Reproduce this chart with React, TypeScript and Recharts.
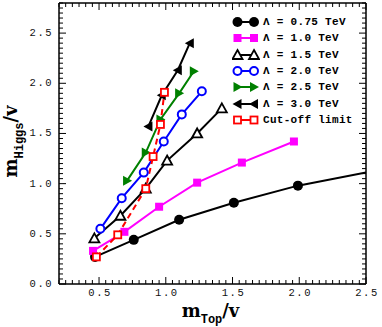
import { LineChart, Line, XAxis, YAxis, Legend, Label } from 'recharts'

// tick labels
const xMajorTicks = [0.5, 1.0, 1.5, 2.0, 2.5]
const yMajorTicks = [0.0, 0.5, 1.0, 1.5, 2.0, 2.5]

// series values (x = m_Top/v, y = m_Higgs/v)
const lambda075X = [0.47, 0.76, 1.1, 1.51, 1.99, 2.5]
const lambda075Y = [0.27, 0.44, 0.64, 0.81, 0.98, 1.11]
const lambda10X = [0.455, 0.69, 0.95, 1.235, 1.57, 1.96]
const lambda10Y = [0.33, 0.52, 0.77, 1.01, 1.21, 1.42]
const lambda15X = [0.465, 0.66, 0.85, 1.01, 1.235, 1.42]
const lambda15Y = [0.455, 0.68, 0.95, 1.23, 1.5, 1.75]
const lambda20X = [0.51, 0.67, 0.835, 0.985, 1.12, 1.27]
const lambda20Y = [0.55, 0.855, 1.11, 1.42, 1.69, 1.92]
const lambda25X = [0.71, 0.85, 0.96, 1.1, 1.21]
const lambda25Y = [1.03, 1.31, 1.64, 1.9, 2.12]
const lambda30X = [0.87, 0.97, 1.09, 1.18]
const lambda30Y = [1.57, 1.88, 2.13, 2.4]
const cutoffX = [0.48, 0.64, 0.85, 0.905, 0.96, 0.99]
const cutoffY = [0.27, 0.49, 0.95, 1.27, 1.59, 1.91]

const seriesNames = [
    'Λ = 0.75 TeV',
    'Λ = 1.0 TeV',
    'Λ = 1.5 TeV',
    'Λ = 2.0 TeV',
    'Λ = 2.5 TeV',
    'Λ = 3.0 TeV',
    'Cut-off limit',
]

const X_DOMAIN: [number, number] = [0.2, 2.5]
const Y_DOMAIN: [number, number] = [0, 2.8]

type MarkerKind = 'circle' | 'square' | 'openTriUp' | 'openCircle' | 'triRight' | 'triLeft' | 'openSquare'

function toPoints(xs: number[], ys: number[]) {
    return xs.map((x, i) => ({ x, y: ys[i] }))
}

const series = [
    { name: seriesNames[0], data: toPoints(lambda075X, lambda075Y), color: '#000000', marker: 'circle' as MarkerKind, lastOpen: true },
    { name: seriesNames[1], data: toPoints(lambda10X, lambda10Y), color: '#ff00ff', marker: 'square' as MarkerKind },
    { name: seriesNames[2], data: toPoints(lambda15X, lambda15Y), color: '#000000', marker: 'openTriUp' as MarkerKind },
    { name: seriesNames[3], data: toPoints(lambda20X, lambda20Y), color: '#0000ff', marker: 'openCircle' as MarkerKind },
    { name: seriesNames[4], data: toPoints(lambda25X, lambda25Y), color: '#008000', marker: 'triRight' as MarkerKind },
    { name: seriesNames[5], data: toPoints(lambda30X, lambda30Y), color: '#000000', marker: 'triLeft' as MarkerKind },
    { name: seriesNames[6], data: toPoints(cutoffX, cutoffY), color: '#ff0000', marker: 'openSquare' as MarkerKind, dashed: true },
]

function stepTicks(from: number, to: number, step: number) {
    const n = Math.round((to - from) / step)
    return Array.from({ length: n + 1 }, (_, i) => Math.round((from + i * step) * 100) / 100)
}

const xTicks = stepTicks(X_DOMAIN[0], X_DOMAIN[1], 0.05)
const yTicks = stepTicks(Y_DOMAIN[0], Y_DOMAIN[1], 0.05)

const MONO = '"Liberation Mono", "DejaVu Sans Mono", monospace'

function Marker({ kind, cx, cy, color }: { kind: MarkerKind; cx: number; cy: number; color: string }) {
    switch (kind) {
        case 'circle':
            return <circle cx={cx} cy={cy} r={5} fill={color} />
        case 'openCircle':
            return <circle cx={cx} cy={cy} r={4} fill="#fff" stroke={color} strokeWidth={2} />
        case 'square':
            return <rect x={cx - 4} y={cy - 4} width={8} height={8} fill={color} />
        case 'openSquare':
            return <rect x={cx - 3.5} y={cy - 3.5} width={7} height={7} fill="#fff" stroke={color} strokeWidth={1.8} />
        case 'openTriUp':
            return (
                <polygon
                    points={`${cx},${cy - 5} ${cx + 5},${cy + 4} ${cx - 5},${cy + 4}`}
                    fill="#fff"
                    stroke={color}
                    strokeWidth={1.8}
                />
            )
        case 'triRight':
            return <polygon points={`${cx + 5},${cy} ${cx - 4},${cy - 5} ${cx - 4},${cy + 5}`} fill={color} />
        case 'triLeft':
            return <polygon points={`${cx - 5},${cy} ${cx + 4},${cy - 5} ${cx + 4},${cy + 5}`} fill={color} />
    }
    return null
}

function isMajor(v: number, majors: number[]) {
    return majors.some((m) => Math.abs(m - v) < 1e-6)
}

function makeTick(side: 'bottom' | 'top' | 'left' | 'right') {
    return (props: any) => {
        const { x, y, payload } = props
        const v = payload.value as number
        const major = isMajor(v, side === 'bottom' || side === 'top' ? xMajorTicks : yMajorTicks)
        const len = major ? 7 : 4
        let line
        if (side === 'bottom') line = <line x1={x} x2={x} y1={y} y2={y - len} />
        else if (side === 'top') line = <line x1={x} x2={x} y1={y} y2={y + len} />
        else if (side === 'left') line = <line x1={x} x2={x + len} y1={y} y2={y} />
        else line = <line x1={x} x2={x - len} y1={y} y2={y} />
        return (
            <g>
                <g stroke="#000" strokeWidth={1}>{line}</g>
                {major && side === 'bottom' && (
                    <text x={x + 1} y={y + 12} textAnchor="middle" fontFamily={MONO} fontSize={10.5} letterSpacing={1.5} fill="#111">
                        {v.toFixed(1)}
                    </text>
                )}
                {major && side === 'left' && (
                    <text x={x - 6} y={y} textAnchor="end" dominantBaseline="central" fontFamily={MONO} fontSize={10.5} letterSpacing={1.5} fill="#111">
                        {v.toFixed(1)}
                    </text>
                )}
            </g>
        )
    }
}

function XTitle(props: any) {
    const { x, y, width } = props.viewBox
    return (
        <text x={x + width / 2 - 2} y={y + 33} textAnchor="middle" fill="#000" fontWeight="bold">
            <tspan fontFamily="DejaVu Serif" fontSize={18}>m</tspan>
            <tspan fontFamily={MONO} fontSize={12} dy={6}>Top</tspan>
            <tspan fontFamily="DejaVu Serif" fontSize={18} dy={-6}>/v</tspan>
        </text>
    )
}

function YTitle(props: any) {
    const { y, height } = props.viewBox
    const cx = 17
    const cy = y + height / 2 - 2
    return (
        <text x={cx} y={cy} textAnchor="middle" fill="#000" fontWeight="bold" transform={`rotate(-90, ${cx}, ${cy})`}>
            <tspan fontFamily="DejaVu Serif" fontSize={18}>m</tspan>
            <tspan fontFamily={MONO} fontSize={12} dy={6}>Higgs</tspan>
            <tspan fontFamily="DejaVu Serif" fontSize={18} dy={-6}>/v</tspan>
        </text>
    )
}

function LegendBox() {
    return (
        <div>
            {series.map((s) => (
                <div key={s.name} style={{ display: 'flex', alignItems: 'center', height: 16.3 }}>
                    <svg width={28} height={14} style={{ display: 'block' }}>
                        <line x1={5} x2={22} y1={7} y2={7} stroke={s.color} strokeWidth={2} />
                        <Marker kind={s.marker} cx={5.5} cy={7} color={s.color} />
                        <Marker kind={s.marker} cx={22} cy={7} color={s.color} />
                    </svg>
                    <span
                        style={{
                            marginLeft: 3,
                            fontFamily: MONO,
                            fontWeight: 'bold',
                            fontSize: 11,
                            letterSpacing: 0.3,
                            color: '#000',
                            whiteSpace: 'pre',
                            lineHeight: '14px',
                        }}
                    >
                        {s.name}
                    </span>
                </div>
            ))}
        </div>
    )
}

const axisLine = { stroke: '#000', strokeWidth: 1.5 }

export default function App() {
    return (
        <div style={{ position: 'absolute', left: 0, top: 0, background: '#fff' }}>
            <LineChart width={382} height={327} margin={{ top: 2, right: 15, bottom: 42, left: 58 }}>
                <XAxis
                    type="number"
                    dataKey="x"
                    domain={X_DOMAIN}
                    ticks={xTicks}
                    interval={0}
                    allowDataOverflow
                    height={1}
                    tickSize={0}
                    tickMargin={0}
                    tickLine={false}
                    axisLine={axisLine}
                    tick={makeTick('bottom')}
                >
                    <Label content={XTitle} />
                </XAxis>
                <XAxis
                    xAxisId="top"
                    orientation="top"
                    type="number"
                    dataKey="x"
                    domain={X_DOMAIN}
                    ticks={xTicks}
                    interval={0}
                    allowDataOverflow
                    height={1}
                    tickSize={0}
                    tickMargin={0}
                    tickLine={false}
                    axisLine={axisLine}
                    tick={makeTick('top')}
                />
                <YAxis
                    type="number"
                    domain={Y_DOMAIN}
                    ticks={yTicks}
                    interval={0}
                    allowDataOverflow
                    width={1}
                    tickSize={0}
                    tickMargin={0}
                    tickLine={false}
                    axisLine={axisLine}
                    tick={makeTick('left')}
                >
                    <Label content={YTitle} />
                </YAxis>
                <YAxis
                    yAxisId="right"
                    orientation="right"
                    type="number"
                    domain={Y_DOMAIN}
                    ticks={yTicks}
                    interval={0}
                    allowDataOverflow
                    width={1}
                    tickSize={0}
                    tickMargin={0}
                    tickLine={false}
                    axisLine={axisLine}
                    tick={makeTick('right')}
                />
                {series.map((s) => (
                    <Line
                        key={s.name}
                        name={s.name}
                        data={s.data}
                        dataKey="y"
                        type="linear"
                        stroke={s.color}
                        strokeWidth={2}
                        strokeDasharray={s.dashed ? '6 4' : undefined}
                        isAnimationActive={false}
                        dot={(p: any) => {
                            const k = `${s.name}-${p.index}`
                            if (s.lastOpen && p.index === s.data.length - 1) return <g key={k} />
                            return (
                                <g key={k}>
                                    <Marker kind={s.marker} cx={p.cx} cy={p.cy} color={s.color} />
                                </g>
                            )
                        }}
                        activeDot={false}
                    />
                ))}
                <Legend
                    layout="vertical"
                    align="center"
                    verticalAlign="middle"
                    content={() => <LegendBox />}
                    wrapperStyle={{ left: 232, top: 14, width: 150 }}
                />
            </LineChart>
        </div>
    )
}
